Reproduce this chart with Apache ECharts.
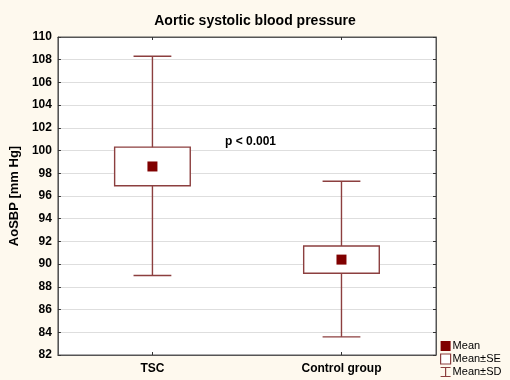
<!DOCTYPE html>
<html><head><meta charset="utf-8">
<script src="https://cdn.jsdelivr.net/npm/echarts@6/dist/echarts.min.js"></script>
<style>html,body{margin:0;padding:0;background:#FEF9EE;}#c{width:510px;height:380px;}</style>
</head><body><div id="c"></div>
<script>
const categories = ['TSC', 'Control group'];
const means = [98.6, 90.4];
const seLow = [96.9, 89.2];
const seHigh = [100.3, 91.6];
const sdLow = [89.0, 83.6];
const sdHigh = [108.3, 97.3];
const yTicks = {min: 82, max: 110, interval: 2};

const LINE = '#8C3F3F';
const MARK = '#800000';
const FONT = 'Liberation Sans, Arial, sans-serif';

const chart = echarts.init(document.getElementById('c'), null, {renderer: 'canvas'});

const sdData = categories.map((c, i) => [i, sdLow[i], sdHigh[i]]);
const seData = categories.map((c, i) => [i, seLow[i], seHigh[i]]);
const meanData = categories.map((c, i) => [i, means[i]]);

function renderSD(params, api) {
  const x = api.value(0);
  const lo = api.coord([x, api.value(1)]);
  const hi = api.coord([x, api.value(2)]);
  const band = api.size([1, 0])[0];
  const half = band * 0.1;
  const style = {stroke: LINE, lineWidth: 1.4, fill: null};
  return {type: 'group', children: [
    {type: 'line', shape: {x1: lo[0], y1: lo[1], x2: hi[0], y2: hi[1]}, style: style},
    {type: 'line', shape: {x1: lo[0] - half, y1: lo[1], x2: lo[0] + half, y2: lo[1]}, style: style},
    {type: 'line', shape: {x1: hi[0] - half, y1: hi[1], x2: hi[0] + half, y2: hi[1]}, style: style}
  ]};
}
function renderSE(params, api) {
  const x = api.value(0);
  const lo = api.coord([x, api.value(1)]);
  const hi = api.coord([x, api.value(2)]);
  const band = api.size([1, 0])[0];
  const w = band * 0.4;
  return {type: 'rect', shape: {x: lo[0] - w / 2, y: hi[1], width: w, height: lo[1] - hi[1]},
    style: {fill: '#fff', stroke: LINE, lineWidth: 1.4}};
}

const option = {
  backgroundColor: '#FEF9EE',
  animation: false,
  title: {text: 'Aortic systolic blood pressure', left: 'center', top: 9,
    textStyle: {fontFamily: FONT, fontSize: 14, fontWeight: 'bold', color: '#000'}},
  grid: {left: 55, top: 37, width: 381, height: 318, show: true, backgroundColor: '#fff',
    borderColor: '#555', borderWidth: 1},
  legend: {
    orient: 'vertical', left: 440, top: 340, bottom: 0, itemWidth: 10, itemHeight: 10, itemGap: 1,
    selectedMode: false, padding: 0,
    textStyle: {fontFamily: FONT, fontSize: 11, color: '#000', lineHeight: 12, padding: [0,0,0,-3]},
    data: [
      {name: 'Mean', icon: 'rect', itemStyle: {color: MARK, opacity: 1}},
      {name: 'Mean±SE', icon: 'rect', itemStyle: {color: '#fff', borderColor: LINE, borderWidth: 1.2}},
      {name: 'Mean±SD', icon: 'path://M0,0 H10 V1 H5.6 V9 H10 V10 H0 V9 H4.4 V1 H0 Z', itemStyle: {color: LINE}}
    ]
  },
  xAxis: [
    {type: 'category', data: categories, position: 'bottom',
      axisLine: {show: true, lineStyle: {color: '#555'}},
      axisTick: {show: true, inside: true, alignWithLabel: true, length: 3, lineStyle: {color: '#333'}},
      axisLabel: {fontFamily: FONT, fontSize: 12, fontWeight: 'bold', color: '#000', margin: 8},
      splitLine: {show: false}},
    {type: 'category', data: categories, position: 'top',
      axisLine: {show: true, lineStyle: {color: '#555'}},
      axisTick: {show: true, inside: true, alignWithLabel: true, length: 3, lineStyle: {color: '#333'}},
      axisLabel: {show: false}, splitLine: {show: false}}
  ],
  yAxis: [
    {type: 'value', min: yTicks.min, max: yTicks.max, interval: yTicks.interval, position: 'left',
      name: 'AoSBP [mm Hg]', nameLocation: 'middle', nameGap: 33,
      nameTextStyle: {fontFamily: FONT, fontSize: 13, fontWeight: 'bold', color: '#000'},
      axisLine: {show: true, lineStyle: {color: '#555'}},
      axisTick: {show: true, inside: true, length: 3, lineStyle: {color: '#333'}},
      axisLabel: {fontFamily: FONT, fontSize: 12, fontWeight: 'bold', color: '#000', margin: 6},
      splitLine: {show: true, lineStyle: {color: '#DEDEDE', width: 1}}},
    {type: 'value', min: yTicks.min, max: yTicks.max, interval: yTicks.interval, position: 'right',
      axisLine: {show: true, lineStyle: {color: '#555'}},
      axisTick: {show: true, inside: true, length: 3, lineStyle: {color: '#333'}},
      axisLabel: {show: false}, splitLine: {show: false}}
  ],
  graphic: [
    {type: 'text', left: 225, top: 136, style: {text: 'p < 0.001', font: 'bold 12px ' + FONT, fill: '#000'}}
  ],
  series: [
    {name: 'Mean±SD', type: 'custom', renderItem: renderSD, data: sdData, encode: {x: 0, y: [1, 2]}, z: 2, itemStyle: {color: LINE}},
    {name: 'Mean±SE', type: 'custom', renderItem: renderSE, data: seData, encode: {x: 0, y: [1, 2]}, z: 3, itemStyle: {color: '#fff', borderColor: LINE}},
    {name: 'Mean', type: 'scatter', data: meanData, symbol: 'rect', symbolSize: 10, itemStyle: {color: MARK, opacity: 1}, z: 4}
  ]
};
chart.setOption(option);
</script></body></html>
